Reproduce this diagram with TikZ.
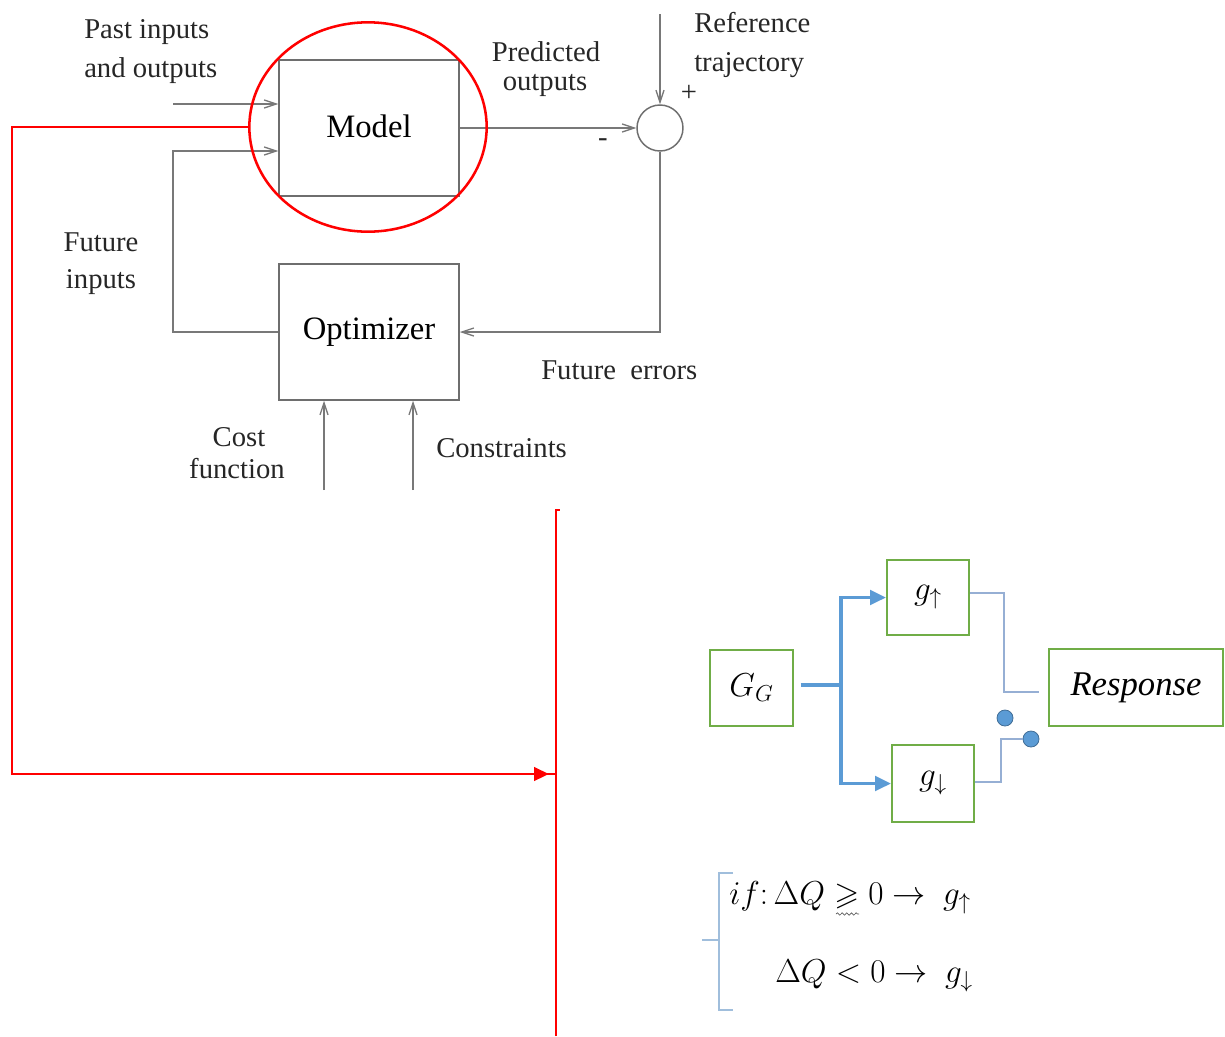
\documentclass[tikz,border=0pt]{standalone}
\usepackage{amsmath,amssymb}
\usepackage{fontspec}
\setmainfont{Liberation Serif}
\usetikzlibrary{arrows.meta,shapes.geometric,decorations.pathmorphing}

\definecolor{wire}{RGB}{120,120,120}
\definecolor{boxline}{RGB}{110,110,110}
\definecolor{leaf}{RGB}{112,173,71}
\definecolor{flow}{RGB}{91,155,213}
\definecolor{thinflow}{RGB}{150,175,212}
\definecolor{bracec}{RGB}{160,190,220}

\begin{document}
\begin{tikzpicture}[x=0.75pt,y=-0.75pt,
  blk/.style={draw=boxline, line width=1.1pt, minimum width=135pt, minimum height=102pt,
    inner sep=0pt, font=\fontsize{24.5}{29}\selectfont},
  lbl/.style={inner sep=0pt, font=\fontsize{21.5}{26}\selectfont, text=black!85},
  wireline/.style={draw=wire, line width=1.1pt},
  barb/.style={wireline, -{Straight Barb[length=9pt,width=6pt,line width=1pt]}},
  redline/.style={draw=red, line width=1.1pt},
  gbox/.style={draw=leaf, line width=1.5pt, inner sep=0pt, font=\fontsize{26}{31}\selectfont},
  bluearrow/.style={draw=flow, line width=2.5pt, -{Triangle[length=12pt,width=11pt]}},
  bluewire/.style={draw=flow, line width=2.5pt},
  thinwire/.style={draw=thinflow, line width=1.3pt},
  swdot/.style={circle, fill=flow, draw=flow!70!black, line width=0.6pt, minimum size=12pt, inner sep=0pt},
  cond/.style={anchor=west, inner sep=0pt, font=\fontsize{24}{29}\selectfont},
]
\useasboundingbox (0,0) rectangle (1225,1036);

% ---------------- predictive control loop ----------------
\node[blk] (model) at (369,128) {\raisebox{3pt}{Model}};
\node[blk] (opt) at (369,332) {\raisebox{-3pt}{Optimizer}};
\node[circle, draw=boxline, line width=1.1pt, minimum size=34.5pt, inner sep=0pt] (sum) at (660,128) {};

\coordinate (pin) at (173,104);
\coordinate (fbk) at (173,151);
\coordinate (ref) at (660,14);
\coordinate (cost) at (324,490);
\coordinate (cons) at (413,490);

\draw[barb] (pin) -- (pin -| model.west);
\draw[barb] (opt.west) -| (fbk) -- (fbk -| model.west);
\draw[barb] (model.east |- sum.west) -- (sum.west);
\draw[barb] (ref) -- (sum.north);
\draw[barb] (sum.south) |- (opt.east);
\draw[barb] (cost) -- (cost |- opt.south);
\draw[barb] (cons) -- (cons |- opt.south);

\node[lbl, anchor=west] (l1) at (84,32) {Past inputs};
\node[lbl, anchor=west] (l2) at (84,71) {and outputs};
\node[lbl] (l3) at (546,52) {Predicted};
\node[lbl] (l4) at (545,85) {outputs};
\node[lbl, anchor=west] (l5) at (694,23) {Reference};
\node[lbl, anchor=west] (l6) at (694,65) {trajectory};
\node[lbl] (l7) at (689,93) {+};
\node[lbl] (l8) at (603,143) {-};
\node[lbl] (l9) at (101,242) {Future};
\node[lbl] (l10) at (101,282) {inputs};
\node[lbl, anchor=west] (l11) at (541,370) {Future\ \ errors};
\node[lbl] (l12) at (239,437) {Cost};
\node[lbl] (l13) at (237,469) {function};
\node[lbl, anchor=west] (l14) at (436,448) {Constraints};

% ---------------- highlight and link ----------------
\node[ellipse, draw=red, line width=1.9pt, minimum width=178pt, minimum height=157pt, inner sep=0pt] (focus) at (368,127) {};
\coordinate (corner1) at (12,774);
\coordinate (tgt) at (556,774);
\coordinate (bartop) at (556,510);
\coordinate (barbot) at (556,1036);
\draw[redline] (focus.west) -| (corner1) -- (tgt);
\draw[redline, -{Triangle[length=11pt,width=10.5pt]}, shorten >=5.5pt] (corner1) -- (tgt);
\draw[redline] (barbot) -- (bartop) -- ++(4,0);

% ---------------- switched gain structure ----------------
\node[gbox, minimum width=62pt, minimum height=57pt] (gg) at (751.5,688) {$G_G$};
\node[gbox, minimum width=61.5pt, minimum height=56pt] (gup) at (928,597.5) {$g_{\uparrow}$};
\node[gbox, minimum width=61.5pt, minimum height=57.5pt] (gdn) at (933,783.5) {$g_{\downarrow}$};
\node[gbox, minimum width=130pt, minimum height=57.5pt] (resp) at (1136,687.5) {$\mathit{Response}$};

\coordinate (split) at (841,685);
\draw[bluewire] ([xshift=5pt]gg.east |- split) -- (split);
\draw[bluearrow] (split) |- (gup.west);
\draw[bluearrow] (split) |- (gdn.west);

\node[swdot] (d1) at (1005,718) {};
\node[swdot] (d2) at (1031,739) {};
\coordinate (upbend) at (1004,593);
\coordinate (dnbend) at (1001,782);
\draw[thinwire] (gup.east |- upbend) -- (upbend) -- (1004,692) -- ([xshift=-7pt]resp.west |- 0,692);
\draw[thinwire] (gdn.east |- dnbend) -- (dnbend) -- (1001,739) -- (d2.west);

% condition brace
\coordinate (bt) at (719,873);
\coordinate (bb) at (719,1010);
\coordinate (bm) at (719,940);
\draw[draw=bracec, line width=1.3pt] ([xshift=10.5pt]bt) -- (bt) -- (bb) -- ++(14,0);
\draw[draw=bracec, line width=1.3pt] (bm) -- ++(-17,0);

\node[cond] (c1) at (729,898)
  {$if{:}\,\Delta Q \geqslant 0 \rightarrow\ g_{\uparrow}$};
\node[cond] (c2) at (775,976)
  {$\Delta Q < 0 \rightarrow\ g_{\downarrow}$};
\draw[gray!70!black, line width=0.5pt, decorate, decoration={snake, amplitude=0.9pt, segment length=3.5pt}]
  (836,914) -- (859,914);
\end{tikzpicture}
\end{document}
